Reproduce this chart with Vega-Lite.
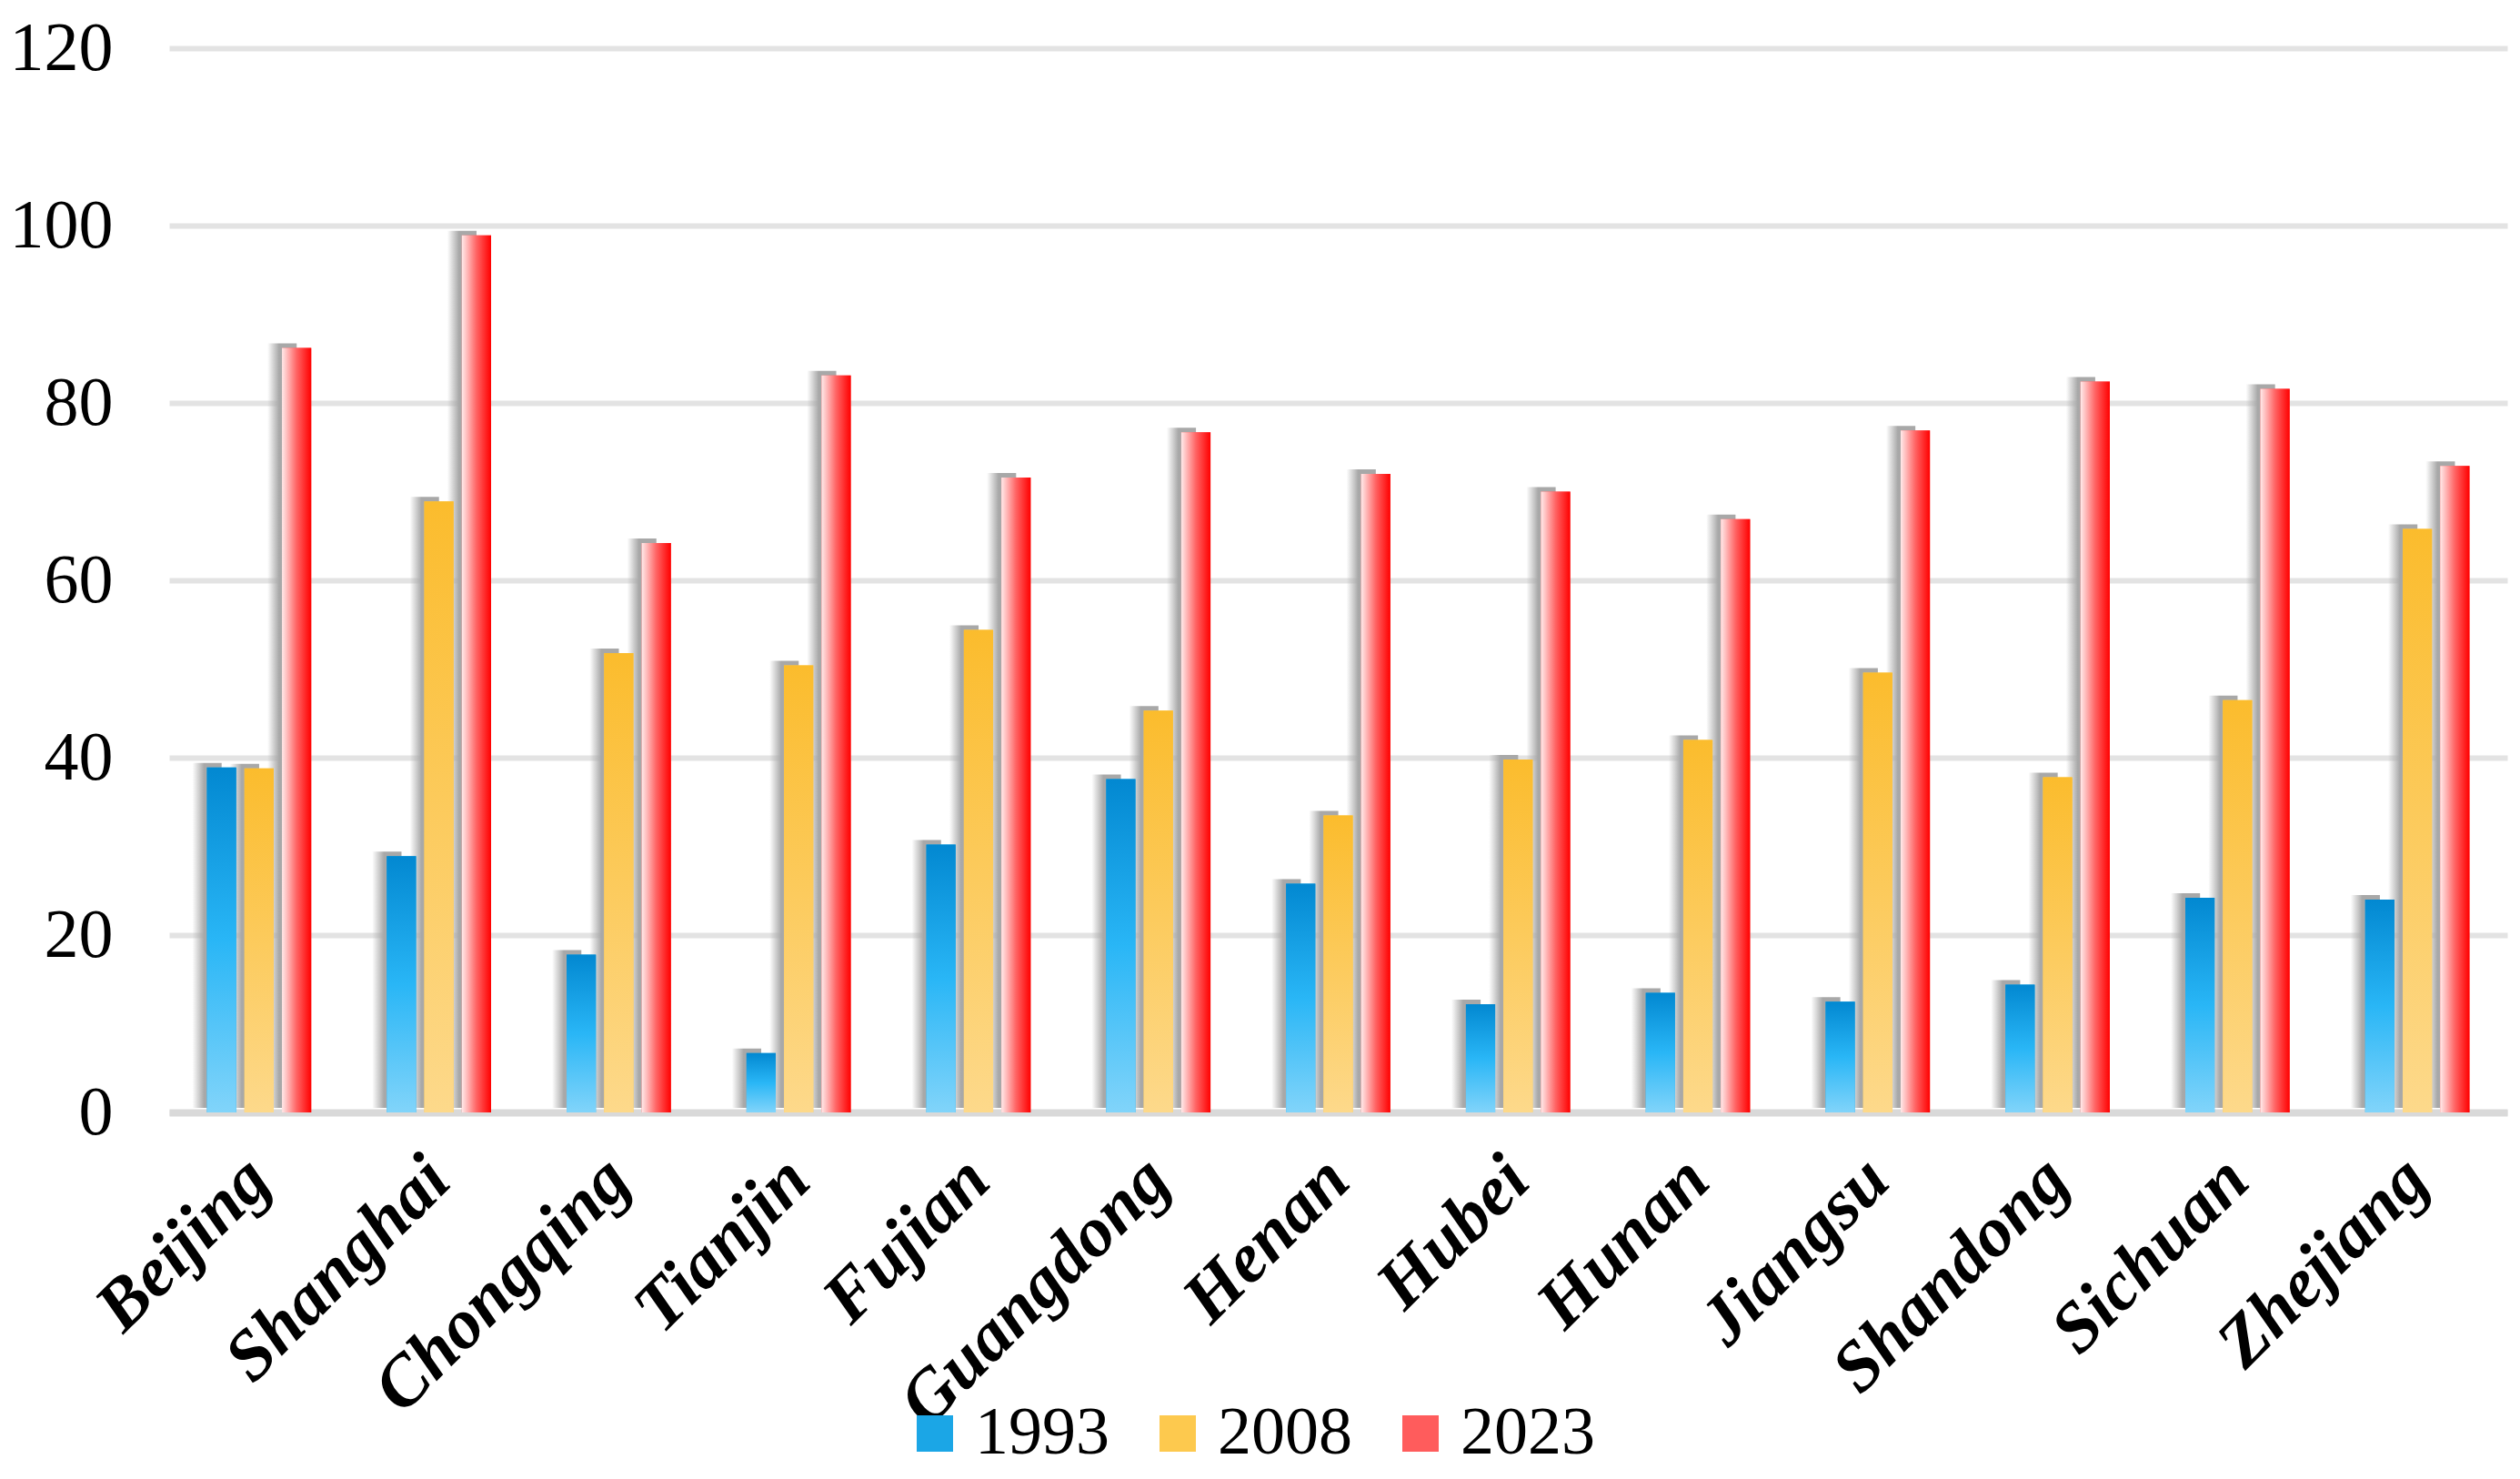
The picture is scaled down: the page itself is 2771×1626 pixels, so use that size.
{
  "$schema": "https://vega.github.io/schema/vega-lite/v6.json",
  "autosize": {"type": "none"},
  "width": 2571,
  "height": 1170,
  "padding": {"left": 186, "top": 53, "right": 14, "bottom": 403},
  "background": "white",
  "config": {
    "view": {"stroke": null},
    "font": "Liberation Serif"
  },
  "data": {
    "values": [
      {"province": "Beijing", "year": "1993", "value": 38.9},
      {"province": "Beijing", "year": "2008", "value": 38.8},
      {"province": "Beijing", "year": "2023", "value": 86.2},
      {"province": "Shanghai", "year": "1993", "value": 28.9},
      {"province": "Shanghai", "year": "2008", "value": 68.9},
      {"province": "Shanghai", "year": "2023", "value": 98.9},
      {"province": "Chongqing", "year": "1993", "value": 17.8},
      {"province": "Chongqing", "year": "2008", "value": 51.8},
      {"province": "Chongqing", "year": "2023", "value": 64.2},
      {"province": "Tianjin", "year": "1993", "value": 6.7},
      {"province": "Tianjin", "year": "2008", "value": 50.4},
      {"province": "Tianjin", "year": "2023", "value": 83.1},
      {"province": "Fujian", "year": "1993", "value": 30.2},
      {"province": "Fujian", "year": "2008", "value": 54.4},
      {"province": "Fujian", "year": "2023", "value": 71.6},
      {"province": "Guangdong", "year": "1993", "value": 37.6},
      {"province": "Guangdong", "year": "2008", "value": 45.3},
      {"province": "Guangdong", "year": "2023", "value": 76.7},
      {"province": "Henan", "year": "1993", "value": 25.8},
      {"province": "Henan", "year": "2008", "value": 33.5},
      {"province": "Henan", "year": "2023", "value": 72.0},
      {"province": "Hubei", "year": "1993", "value": 12.2},
      {"province": "Hubei", "year": "2008", "value": 39.8},
      {"province": "Hubei", "year": "2023", "value": 70.0},
      {"province": "Hunan", "year": "1993", "value": 13.5},
      {"province": "Hunan", "year": "2008", "value": 42.0},
      {"province": "Hunan", "year": "2023", "value": 66.9},
      {"province": "Jiangsu", "year": "1993", "value": 12.5},
      {"province": "Jiangsu", "year": "2008", "value": 49.6},
      {"province": "Jiangsu", "year": "2023", "value": 76.9},
      {"province": "Shandong", "year": "1993", "value": 14.4},
      {"province": "Shandong", "year": "2008", "value": 37.8},
      {"province": "Shandong", "year": "2023", "value": 82.4},
      {"province": "Sichuan", "year": "1993", "value": 24.2},
      {"province": "Sichuan", "year": "2008", "value": 46.5},
      {"province": "Sichuan", "year": "2023", "value": 81.6},
      {"province": "Zhejiang", "year": "1993", "value": 24.0},
      {"province": "Zhejiang", "year": "2008", "value": 65.8},
      {"province": "Zhejiang", "year": "2023", "value": 72.9}
    ]
  },
  "encoding": {
    "x": {
      "field": "province",
      "type": "nominal",
      "sort": null,
      "scale": {"paddingInner": 0.42, "paddingOuter": 0.21},
      "axis": {
        "title": null,
        "labelAngle": -45,
        "labelAlign": "right",
        "labelBaseline": "middle",
        "labelFont": "Liberation Serif",
        "labelFontSize": 78,
        "labelFontStyle": "italic",
        "labelFontWeight": "bold",
        "labelColor": "#000000",
        "labelPadding": 62,
        "labelLimit": 800,
        "ticks": false,
        "domain": true,
        "domainColor": "#d9d9d9",
        "domainWidth": 8,
        "grid": false
      }
    },
    "y": {
      "field": "value",
      "type": "quantitative",
      "scale": {"domain": [0, 120], "nice": false},
      "axis": {
        "title": null,
        "values": [0, 20, 40, 60, 80, 100, 120],
        "labelFont": "Liberation Serif",
        "labelFontSize": 76,
        "labelColor": "#000000",
        "labelPadding": 62,
        "ticks": false,
        "domain": false,
        "grid": true,
        "gridColor": "#e3e3e3",
        "gridWidth": 6
      }
    }
  },
  "resolve": {"scale": {"xOffset": "independent"}},
  "layer": [
    {
      "mark": {
        "type": "bar",
        "yOffset": -5,
        "fill": {"gradient": "linear", "x1": 0, "y1": 0, "x2": 1, "y2": 0, "stops": [{"offset": 0, "color": "rgba(170,170,170,0)"}, {"offset": 0.4, "color": "rgba(168,168,168,1)"}, {"offset": 1, "color": "rgba(168,168,168,1)"}]},
        "strokeWidth": 0
      },
      "encoding": {
        "xOffset": {
          "field": "year",
          "type": "nominal",
          "scale": {"domain": ["1993", "2008", "2023"], "range": [-16, 98.7], "paddingInner": 0.22, "paddingOuter": 0}
        }
      }
    },
    {
      "mark": {"type": "bar", "strokeWidth": 0},
      "encoding": {
        "xOffset": {
          "field": "year",
          "type": "nominal",
          "scale": {"domain": ["1993", "2008", "2023"], "paddingInner": 0.22, "paddingOuter": 0}
        },
        "color": {
          "field": "year",
          "type": "nominal",
          "scale": {"domain": ["1993", "2008", "2023"], "range": ["#1ba6e6", "#fdc94e", "#ff5c5c"]},
          "legend": {
            "title": null,
            "orient": "none",
            "direction": "horizontal",
            "legendX": 805,
            "legendY": 1486,
            "padding": 0,
            "symbolType": "square",
            "symbolSize": 1600,
            "symbolStrokeWidth": 0,
            "labelFont": "Liberation Serif",
            "labelFontSize": 74,
            "labelColor": "#000000",
            "labelOffset": 7,
            "columnPadding": 38,
            "labelLimit": 400
          }
        }
      }
    },
    {
      "transform": [{"filter": "datum.year == '1993'"}],
      "mark": {
        "type": "bar",
        "strokeWidth": 0,
        "fill": {"gradient": "linear", "x1": 0, "y1": 0, "x2": 0, "y2": 1, "stops": [{"offset": 0, "color": "#0288d1"}, {"offset": 0.5, "color": "#29b6f6"}, {"offset": 1, "color": "#81d4fa"}]}
      },
      "encoding": {
        "xOffset": {
          "field": "year",
          "type": "nominal",
          "scale": {"domain": ["1993", "2008", "2023"], "paddingInner": 0.22, "paddingOuter": 0}
        }
      }
    },
    {
      "transform": [{"filter": "datum.year == '2008'"}],
      "mark": {
        "type": "bar",
        "strokeWidth": 0,
        "fill": {"gradient": "linear", "x1": 0, "y1": 0, "x2": 0, "y2": 1, "stops": [{"offset": 0, "color": "#fbbc2d"}, {"offset": 1, "color": "#fdd98b"}]}
      },
      "encoding": {
        "xOffset": {
          "field": "year",
          "type": "nominal",
          "scale": {"domain": ["1993", "2008", "2023"], "paddingInner": 0.22, "paddingOuter": 0}
        }
      }
    },
    {
      "transform": [{"filter": "datum.year == '2023'"}],
      "mark": {
        "type": "bar",
        "strokeWidth": 0,
        "fill": {"gradient": "linear", "x1": 0, "y1": 0, "x2": 1, "y2": 0, "stops": [{"offset": 0, "color": "#ffeaea"}, {"offset": 0.5, "color": "#ff6464"}, {"offset": 1, "color": "#ff0000"}]}
      },
      "encoding": {
        "xOffset": {
          "field": "year",
          "type": "nominal",
          "scale": {"domain": ["1993", "2008", "2023"], "paddingInner": 0.22, "paddingOuter": 0}
        }
      }
    }
  ]
}
